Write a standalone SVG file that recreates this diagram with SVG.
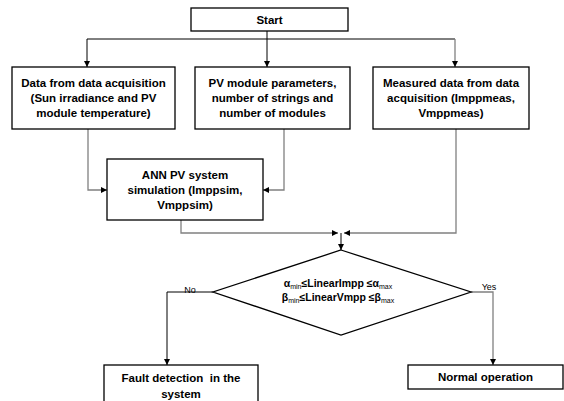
<svg xmlns="http://www.w3.org/2000/svg" width="564" height="401" viewBox="0 0 564 401">
<defs>
<marker id="ah" viewBox="0 0 10 10" refX="10" refY="5" markerWidth="6" markerHeight="6" orient="auto" markerUnits="userSpaceOnUse">
<path d="M0,0 L10,5 L0,10 z" fill="#000"/>
</marker>
<style>
.box{fill:#fff;stroke:#000;stroke-width:1.3}
.t{font-family:"Liberation Sans",Arial,sans-serif;font-size:11.5px;font-weight:bold;fill:#000;text-anchor:middle}
.d{font-size:10.5px}
.s{font-size:7px;font-weight:normal}
.lbl{font-family:"Liberation Sans",Arial,sans-serif;font-size:9px;fill:#000;text-anchor:middle}
.c{fill:none;stroke:#000;stroke-width:1}
.g{fill:none;stroke:#808080;stroke-width:1.3}
</style>
</defs>
<rect width="564" height="401" fill="#fff"/>
<g id="connectors">
<path class="c" d="M267,31 V39"/>
<path class="c" d="M87,39 H455"/>
<path class="c" d="M87,39 V67" marker-end="url(#ah)"/>
<path class="c" d="M267,39 V67" marker-end="url(#ah)"/>
<path class="g" d="M455,39 V67" marker-end="url(#ah)"/>
<path class="g" d="M88,129 V190 H107" marker-end="url(#ah)"/>
<path class="g" d="M284,129 V190 H263" marker-end="url(#ah)"/>
<path class="g" d="M181,220 V233 H338" marker-end="url(#ah)"/>
<path class="g" d="M456,129 V233 H344" marker-end="url(#ah)"/>
<path class="c" d="M341,233 V250" marker-end="url(#ah)"/>
<path class="c" d="M213,292 H167 V365" marker-end="url(#ah)"/>
<path class="g" d="M471,292 H493 V365" marker-end="url(#ah)"/>
<text class="lbl" x="190" y="293">No</text>
<text class="lbl" x="489" y="290">Yes</text>
</g>
<g id="start">
<rect class="box" x="191" y="8" width="157" height="23"/>
<text class="t" x="269.5" y="23.5">Start</text>
</g>
<g id="data-acq">
<rect class="box" x="12" y="67" width="163" height="62"/>
<text class="t" x="93.5" y="87">Data from data acquisition</text>
<text class="t" x="93.5" y="102">(Sun irradiance and PV</text>
<text class="t" x="93.5" y="117">module temperature)</text>
</g>
<g id="pv-params">
<rect class="box" x="195" y="67" width="155" height="62"/>
<text class="t" x="272.5" y="87">PV module parameters,</text>
<text class="t" x="272.5" y="102">number of strings and</text>
<text class="t" x="272.5" y="117">number of modules</text>
</g>
<g id="measured">
<rect class="box" x="373" y="67" width="156" height="62"/>
<text class="t" x="451" y="87">Measured data from data</text>
<text class="t" x="451" y="102">acquisition (Imppmeas,</text>
<text class="t" x="451" y="117">Vmppmeas)</text>
</g>
<g id="ann">
<rect class="box" x="107" y="159" width="156" height="61"/>
<text class="t" x="185" y="178.5">ANN PV system</text>
<text class="t" x="185" y="193.5">simulation (Imppsim,</text>
<text class="t" x="185" y="208.5">Vmppsim)</text>
</g>
<g id="decision">
<polygon class="box" points="341,250 471,292 341,335 213,292"/>
<text class="t d" x="338" y="287">α<tspan class="s" dy="2">min</tspan><tspan dy="-2">≤LinearImpp ≤α</tspan><tspan class="s" dy="2">max</tspan></text>
<text class="t d" x="338" y="301">β<tspan class="s" dy="2">min</tspan><tspan dy="-2">≤LinearVmpp ≤β</tspan><tspan class="s" dy="2">max</tspan></text>
</g>
<g id="fault">
<rect class="box" x="104" y="365" width="154" height="45"/>
<text class="t" x="181" y="382" xml:space="preserve">Fault detection  in the</text>
<text class="t" x="181" y="398">system</text>
</g>
<g id="normal">
<rect class="box" x="408" y="365" width="155" height="24"/>
<text class="t" x="485.5" y="381">Normal operation</text>
</g>
</svg>
